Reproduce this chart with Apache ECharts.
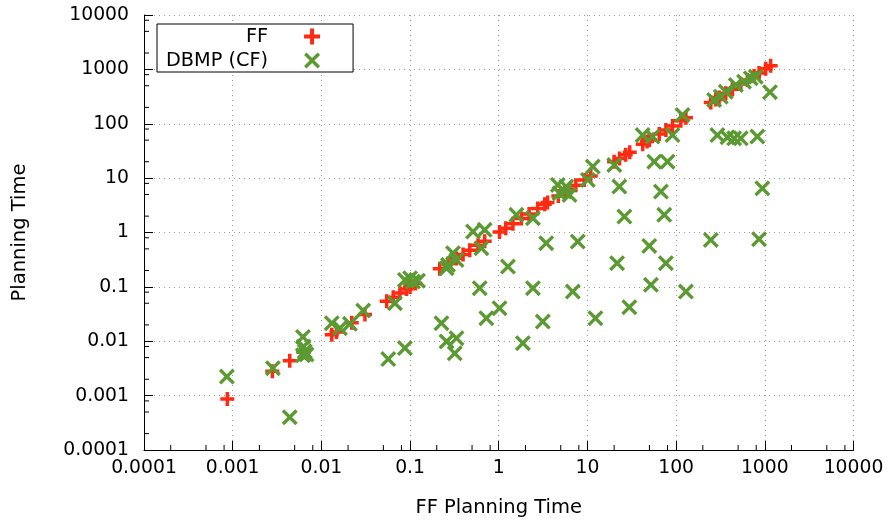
<!DOCTYPE html>
<html>
<head>
<meta charset="utf-8">
<script src="https://cdn.jsdelivr.net/npm/echarts@6/dist/echarts.min.js"></script>
<style>html,body{margin:0;padding:0;background:#fff}#c{width:888px;height:520px}</style>
</head>
<body>
<div id="c"></div>
<script>
// ---- data ----
const tickLabels = ["0.0001","0.001","0.01","0.1","1","10","100","1000","10000"];
const minorMultipliers = [2, 5, 8];
const decadeStarts = [0.0001, 0.001, 0.01, 0.1, 1, 10, 100, 1000];

const ffPoints = [
  [0.00087,0.00087],[0.0028,0.0028],[0.0044,0.0044],[0.0063,0.0063],[0.0131,0.0131],[0.0148,0.0148],
  [0.022,0.022],[0.031,0.031],[0.0545,0.0545],[0.0646,0.0646],[0.0768,0.0768],[0.0914,0.0914],
  [0.1,0.1],[0.115,0.115],[0.216,0.216],[0.268,0.268],[0.334,0.334],[0.396,0.396],[0.471,0.471],
  [0.583,0.583],[0.694,0.694],[1.02,1.02],[1.2,1.2],[1.445,1.445],[1.8,1.8],[2.2,2.2],[2.75,2.75],
  [3.3,3.3],[3.55,3.55],[4.7,4.7],[5.5,5.5],[6.3,6.3],[7.4,7.4],[9.2,9.2],[10.9,10.9],[20,20],[23,23],
  [27,27],[30,30],[42,42],[47,47],[50,50],[64.5,64.5],[76.7,76.7],[91,91],[113,113],[129,129],
  [246,246],[280,280],[305,305],[363,363],[432,432],[536,536],[636,636],[757,757],[861,861],
  [1023,1023],[1164,1164]
];

const dbmpPoints = [
  [0.00086,0.00224],[0.00284,0.0032],[0.0044,0.0004],[0.0062,0.012],[0.0063,0.008],[0.0062,0.0055],
  [0.0068,0.0057],[0.0065,0.0065],[0.0131,0.0215],[0.0162,0.0174],[0.021,0.0209],[0.0296,0.0366],
  [0.0568,0.0047],[0.0675,0.05],[0.0874,0.0075],[0.0874,0.1345],[0.1,0.1445],[0.108,0.125],
  [0.123,0.13],[0.226,0.0215],[0.258,0.0099],[0.334,0.0114],[0.319,0.006],[0.268,0.254],
  [0.305,0.416],[0.334,0.313],[0.258,0.22],[0.513,1.04],[0.694,1.12],[0.637,0.514],[0.61,0.0946],
  [1.27,0.236],[1.02,0.0406],[0.725,0.0266],[1.58,2.11],[1.87,0.0092],[2.43,0.0946],[2.43,1.83],
  [4.63,7.5],[4.84,5.27],[5.51,5.65],[6.28,4.91],[5.76,6.98],[11.5,16.3],[10.1,9.27],[20.1,17.5],
  [22.9,6.98],[26.1,1.96],[41.9,62],[54.3,58],[56.7,20.1],[3.43,0.636],[7.78,0.68],[6.84,0.082],
  [3.14,0.023],[12.3,0.0266],[21.6,0.273],[49.8,0.567],[52,0.109],[29.7,0.0424],[91,62],[118,145],
  [80,20.1],[67.4,5.65],[73.5,2.11],[76.7,0.273],[129,0.082],[246,0.731],[292,62],[268,274],
  [363,389],[471,516],[583,594],[695,686],[791,735],[319,315],[1143,380],[379,56.5],[451,54],
  [536,54],[824,58],[938,6.5],[861,0.753]
];

// ---- chart ----
const AX_MIN = 0.0001, AX_MAX = 10000;
const plusPath = 'path://M7.5,0 H12.5 V7.5 H20 V12.5 H12.5 V20 H7.5 V12.5 H0 V7.5 H7.5 Z';
const crossPath = 'path://M0,3 L3,0 L10,7 L17,0 L20,3 L13,10 L20,17 L17,20 L10,13 L3,20 L0,17 L7,10 Z';
const RED = '#ff2a12', GREEN = '#5b9a32';
const FONT = 'DejaVu Sans';

const minorVals = [];
decadeStarts.forEach(d => minorMultipliers.forEach(m => minorVals.push(d * m)));

function fmt(v) {
  const i = Math.round(Math.log10(v)) + 4;
  return tickLabels[i] !== undefined ? tickLabels[i] : '';
}

function logAxis(extra) {
  return Object.assign({
    type: 'log', logBase: 10, min: AX_MIN, max: AX_MAX, splitNumber: 8,
    axisLine: { show: true, onZero: false, lineStyle: { color: '#000', width: 1 } },
    axisTick: { show: true, inside: true, length: 9, lineStyle: { color: '#000', width: 1 } },
    minorTick: { show: false },
    splitLine: { show: true, lineStyle: { color: '#999', width: 1, type: [1, 4] } },
    nameLocation: 'middle',
    nameTextStyle: { color: '#000', fontFamily: FONT, fontSize: 19.5 }
  }, extra);
}

const chart = echarts.init(document.getElementById('c'), null, { renderer: 'canvas' });
chart.setOption({
  animation: false,
  backgroundColor: '#fff',
  grid: { left: 144, right: 34.5, top: 15, bottom: 70, containLabel: false, outerBoundsMode: 'none' },
  xAxis: logAxis({ name: 'FF Planning Time', nameGap: 48, axisLabel: { formatter: fmt, color: '#000', fontFamily: FONT, fontSize: 18.8, margin: 9 } }),
  yAxis: logAxis({ name: 'Planning Time', nameGap: 114, axisLabel: { formatter: fmt, color: '#000', fontFamily: FONT, fontSize: 18.8, margin: 15 } }),
  legend: {
    orient: 'vertical', left: 157, top: 24, align: 'right',
    itemWidth: 16, itemHeight: 16, itemGap: 5,
    padding: [3, 33, 2, 9],
    borderColor: '#000', borderWidth: 1, backgroundColor: '#fff',
    selectedMode: false,
    textStyle: { color: '#000', fontFamily: FONT, fontSize: 19.3, lineHeight: 16, padding: [0, 31, 0, 0] },
    data: [{ name: 'FF', icon: plusPath }, { name: 'DBMP (CF)', icon: crossPath }]
  },
  series: [
    { name: 'FF', type: 'scatter', data: ffPoints, symbol: plusPath, symbolSize: 14,
      itemStyle: { color: RED, opacity: 1 }, z: 3 },
    { name: 'DBMP (CF)', type: 'scatter', data: dbmpPoints, symbol: crossPath, symbolSize: 16,
      itemStyle: { color: GREEN, opacity: 1 }, z: 4 },
    { type: 'custom', silent: true, clip: false, z: 5, legendHoverLink: false,
      data: minorVals.map(v => [v, AX_MIN]),
      renderItem: function (params, api) {
        const p = api.coord([api.value(0), api.value(1)]);
        return { type: 'line', shape: { x1: p[0], y1: p[1], x2: p[0], y2: p[1] - 5 },
          style: { stroke: '#000', lineWidth: 1 } };
      } },
    { type: 'custom', silent: true, clip: false, z: 5, legendHoverLink: false,
      data: minorVals.map(v => [AX_MIN, v]),
      renderItem: function (params, api) {
        const p = api.coord([api.value(0), api.value(1)]);
        return { type: 'line', shape: { x1: p[0], y1: p[1], x2: p[0] + 5, y2: p[1] },
          style: { stroke: '#000', lineWidth: 1 } };
      } }
  ]
});
</script>
</body>
</html>
